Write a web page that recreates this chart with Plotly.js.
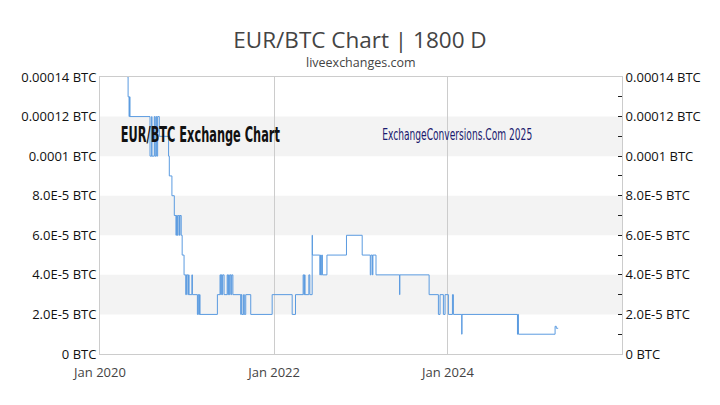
<!DOCTYPE html>
<html>
<head>
<meta charset="utf-8">
<script src="https://cdn.plot.ly/plotly-3.0.1.min.js"></script>
<style>html,body{margin:0;padding:0;background:#fff}#chart{width:720px;height:405px}</style>
</head>
<body>
<div id="chart"></div>
<script>
// Step changes of EUR/BTC (values in units of 1e-5 BTC)
const dates = [
  "2020-04-26","2020-04-28","2020-05-02","2020-05-04","2020-05-06",
  "2020-07-29","2020-08-05","2020-08-06","2020-08-16","2020-08-19","2020-08-23","2020-08-26","2020-08-30",
  "2020-09-06","2020-10-15","2020-10-18","2020-10-29","2020-11-08",
  "2020-11-15","2020-11-17","2020-11-21","2020-11-24","2020-11-30","2020-12-02","2020-12-07",
  "2020-12-11","2020-12-19","2020-12-26","2020-12-29","2021-01-04","2021-01-07","2021-01-09","2021-01-21","2021-01-23",
  "2021-02-13","2021-02-16","2021-02-19","2021-02-22","2021-02-24",
  "2021-05-08","2021-05-19","2021-05-22","2021-05-24","2021-05-27","2021-05-30","2021-06-05",
  "2021-06-18","2021-06-21","2021-06-24","2021-06-27","2021-06-30","2021-07-04","2021-07-07","2021-07-12",
  "2021-08-14","2021-08-16","2021-08-19","2021-08-26","2021-08-29","2021-09-04","2021-09-25",
  "2021-12-24","2022-03-18","2022-04-01",
  "2022-05-03","2022-05-06","2022-05-09","2022-05-11","2022-05-27","2022-05-31",
  "2022-06-10","2022-06-11","2022-07-12","2022-07-15","2022-07-17","2022-07-20","2022-07-23",
  "2022-08-11","2022-11-01","2023-01-06",
  "2023-02-09","2023-02-12","2023-02-18","2023-02-20","2023-03-05",
  "2023-06-12","2023-06-13","2023-10-14",
  "2023-11-22","2023-11-29","2023-12-13","2023-12-20","2024-01-03","2024-01-20","2024-01-24",
  "2024-02-28","2024-02-29","2024-10-19","2024-10-21","2024-10-23",
  "2025-03-26","2025-03-31","2025-04-08"
];
const rateE5 = [
  14,13,12,13,12,
  10,12,10,12,10,12,10,12,
  11,10,9,8,7,
  6,7,6,7,6,7,6,
  5,4,3,4,3,4,3,4,3,
  2,3,2,3,2,
  3,4,3,4,3,4,3,
  4,3,4,3,4,3,4,3,
  2,3,2,3,2,3,2,
  3,2,3,
  4,3,4,3,4,3,
  6,5,4,5,4,5,4,
  5,6,5,
  4,5,4,5,4,
  3,4,3,
  2,3,2,3,2,3,2,
  1,2,1,2,1,
  1.4,1.3,1.3
];
const yTickVals = [0, 2e-5, 4e-5, 6e-5, 8e-5, 1e-4, 1.2e-4, 1.4e-4];
const yTickText = ["0 BTC","2.0E-5 BTC","4.0E-5 BTC","6.0E-5 BTC","8.0E-5 BTC","0.0001 BTC","0.00012 BTC","0.00014 BTC"];
const xTickVals = ["2020-01-01","2022-01-01","2024-01-01"];
const xTickText = ["Jan 2020","Jan 2022","Jan 2024"];
const xRange = ["2020-01-01","2026-01-01"];

const rate = rateE5.map(v => v * 1e-5);

// alternating background bands between tick values
const shapes = [];
for (let i = 1; i + 1 < yTickVals.length; i += 2) {
  shapes.push({type:'rect', xref:'paper', yref:'y', x0:0, x1:1, y0:yTickVals[i], y1:yTickVals[i+1],
    fillcolor:'#f3f3f3', line:{width:0}, layer:'below'});
}

const traces = [
  {x:dates, y:rate, type:'scatter', mode:'lines', line:{color:'#5b9be0', width:1, shape:'hv'}, hoverinfo:'skip', showlegend:false},
  {x:dates, y:rate, type:'scatter', mode:'lines', yaxis:'y2', line:{color:'rgba(0,0,0,0)', width:0, shape:'hv'}, hoverinfo:'skip', showlegend:false}
];

const tickFont = {family:'Open Sans, DejaVu Sans, sans-serif', size:13, color:'#111'};
const wmFont = 'DejaVu Sans Condensed, Liberation Sans Narrow, Roboto, sans-serif';
const layout = {
  width:720, height:405,
  margin:{l:100, r:98, t:77, b:51},
  paper_bgcolor:'#fff', plot_bgcolor:'#fff',
  title:{text:'EUR/BTC Chart | 1800 D', font:{family:'Open Sans, DejaVu Sans, sans-serif', size:22.5, color:'#444'},
    x:0.5, xanchor:'center', yref:'container', y:1-40/405, yanchor:'middle'},
  xaxis:{type:'date', range:xRange, tickvals:xTickVals, ticktext:xTickText, showgrid:true, gridcolor:'#cccccc', gridwidth:1,
    showline:true, linecolor:'#cccccc', mirror:true, ticks:'', zeroline:false, ticklabelstandoff:6,
    tickfont:{family:'Open Sans, DejaVu Sans, sans-serif', size:13, color:'#444'}},
  yaxis:{range:[0,1.4e-4], tickvals:yTickVals, ticktext:yTickText, showgrid:false, zeroline:false,
    showline:true, linecolor:'#cccccc', ticks:'', tickfont:tickFont},
  yaxis2:{range:[0,1.4e-4], overlaying:'y', side:'right', tickvals:yTickVals, ticktext:yTickText, showgrid:false, zeroline:false,
    showline:true, linecolor:'#cccccc', ticks:'inside', ticklen:4, tickcolor:'#222', tickfont:tickFont,
    minor:{ticks:'inside', ticklen:4, tickcolor:'#222', dtick:1e-5}},
  shapes:shapes,
  annotations:[
    {text:'liveexchanges.com', xref:'paper', yref:'paper', x:0.5, y:(354-63)/277, xanchor:'center', yanchor:'middle', showarrow:false,
     font:{family:'Open Sans, DejaVu Sans, sans-serif', size:12.5, color:'#444'}},
    {text:'<b>EUR/BTC Exchange Chart</b>', xref:'paper', yref:'paper', x:(200.5-100)/522, y:(354-135)/277, xanchor:'center', yanchor:'middle', showarrow:false,
     font:{family:wmFont, size:21, color:'#111'}},
    {text:'ExchangeConversions.Com 2025', xref:'paper', yref:'paper', x:(457-100)/522, y:(354-135)/277, xanchor:'center', yanchor:'middle', showarrow:false,
     font:{family:wmFont, size:15, color:'#1a1a6e'}}
  ]
};
const wmWidths = [159, 150];
Plotly.newPlot('chart', traces, layout, {staticPlot:true, displayModeBar:false}).then(gd => {
  const texts = gd.querySelectorAll('.annotation-text');
  // compress the condensed watermark texts horizontally
  [1, 2].forEach((idx, k) => {
    const t = texts[idx];
    if (t) { t.setAttribute('textLength', wmWidths[k]); t.setAttribute('lengthAdjust', 'spacingAndGlyphs'); }
  });
});
</script>
</body>
</html>
